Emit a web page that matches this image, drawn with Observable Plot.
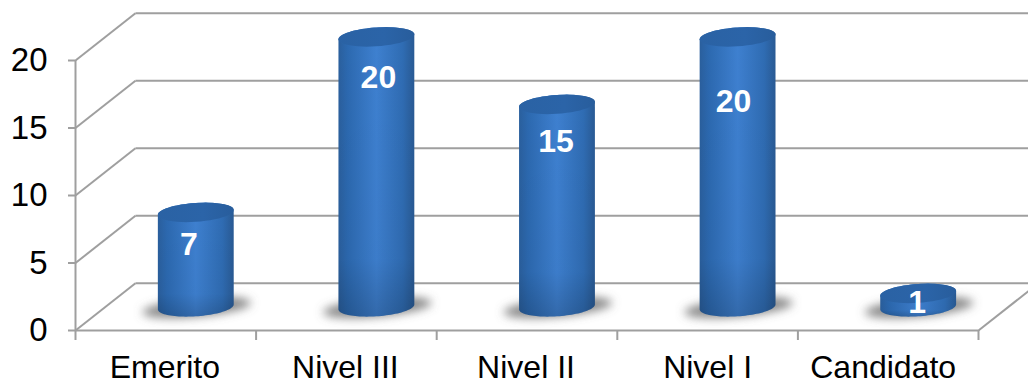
<!DOCTYPE html>
<html>
<head>
<meta charset="utf-8">
<script src="https://cdn.jsdelivr.net/npm/d3@7"></script>
<script src="https://cdn.jsdelivr.net/npm/@observablehq/plot@0.6"></script>
<style>
  html, body { margin: 0; padding: 0; background: #fff; }
  svg { display: block; }
</style>
</head>
<body>
<div id="chart"></div>
<script>
// Researchers per level
const categories = ["Emerito", "Nivel III", "Nivel II", "Nivel I", "Candidato"];
const values = [7, 20, 15, 20, 1];
const yTicks = [0, 5, 10, 15, 20];
const xBounds = [0, 1, 2, 3, 4, 5];

// Label placement around each column, in pixels
const labelShiftX = [-7, 2, -1, -4, -1];
const labelShiftY = [32, 41, 37, 65, 9];
const categoryShiftX = [-1, -1, -1, 0, -5];
const categoryDrop = 37.7;

// Oblique projection of the chart box, in data units
const depthX = 0.332;
const depthY = 3.5;

// Ellipse proportions of a column cross-section, in data units
const radiusX = 0.21;
const radiusY = 0.7;
const shear = 0.18;

const gridColor = "#9f9f9f";

function arc(cx, cy, a, b, k, from, to) {
  const steps = 48;
  return d3.range(steps + 1).map((s) => {
    const t = from + (to - from) * s / steps;
    return {x: cx + a * Math.cos(t), y: cy + b * Math.sin(t) + k * Math.cos(t)};
  });
}

const centerX = (i) => i + 0.5 + depthX / 2;
const baseY = depthY / 2;

const bodies = values.flatMap((v, i) => [
  ...arc(centerX(i), baseY, radiusX, radiusY, shear, Math.PI, 2 * Math.PI),
  ...arc(centerX(i), baseY + v, radiusX, radiusY, shear, 0, Math.PI)
].map((p) => ({...p, i})));

const tops = values.flatMap((v, i) =>
  arc(centerX(i), baseY + v, radiusX, radiusY, shear, 0, 2 * Math.PI).map((p) => ({...p, i}))
);

const shadows = values.flatMap((v, i) =>
  arc(centerX(i) + 0.005, baseY - 0.05, 0.3, 0.68, 0.36, 0, 2 * Math.PI).map((p) => ({...p, i}))
);

const defs = () => d3.create("svg:defs").html(`
  <linearGradient id="columnSide" x1="0" x2="1" y1="0" y2="0">
    <stop offset="0" stop-color="#2a5f9d"/>
    <stop offset="0.12" stop-color="#2c69b0"/>
    <stop offset="0.5" stop-color="#3e80d0"/>
    <stop offset="0.85" stop-color="#2f6cb3"/>
    <stop offset="1" stop-color="#295a94"/>
  </linearGradient>
  <linearGradient id="columnFade" x1="0" x2="0" y1="0" y2="1">
    <stop offset="0" stop-color="#000" stop-opacity="0"/>
    <stop offset="0.8" stop-color="#000" stop-opacity="0.03"/>
    <stop offset="1" stop-color="#000" stop-opacity="0.18"/>
  </linearGradient>
  <linearGradient id="columnTop" x1="0" x2="1" y1="0" y2="0">
    <stop offset="0" stop-color="#2a62a4"/>
    <stop offset="0.6" stop-color="#2b64a8"/>
    <stop offset="1" stop-color="#285d9c"/>
  </linearGradient>
  <filter id="softShadow" x="-30%" y="-100%" width="160%" height="300%">
    <feGaussianBlur stdDeviation="5"/>
  </filter>
`).node();

const blurred = (index, scales, channels, dimensions, context, next) => {
  const g = next(index, scales, channels, dimensions, context);
  g.setAttribute("filter", "url(#softShadow)");
  return g;
};

// Moves each text of a mark by its own pixel offset
const nudged = (shiftX, shiftY) => (index, scales, channels, dimensions, context, next) => {
  const g = next(index, scales, channels, dimensions, context);
  d3.select(g).selectAll("text").each(function (d, n) {
    const i = index[n];
    this.setAttribute("transform",
      `translate(${channels.x[i] + shiftX(i)},${channels.y[i] + shiftY(i)})`);
  });
  return g;
};

const chart = Plot.plot({
  width: 1028,
  height: 385,
  marginLeft: 75,
  marginRight: 50,
  marginTop: 60,
  marginBottom: 55,
  style: {fontFamily: "'Liberation Sans', Arial, sans-serif", background: "#fff", color: "#000"},
  x: {domain: [0, 5]},
  y: {domain: [0, 20]},
  marks: [
    defs,
    // Back wall and floor edge
    Plot.link(yTicks, {
      x1: depthX, y1: (d) => d + depthY,
      x2: 5 + depthX, y2: (d) => d + depthY,
      stroke: gridColor, strokeWidth: 2
    }),
    // Side wall
    Plot.link(yTicks, {
      x1: 0, y1: (d) => d,
      x2: depthX, y2: (d) => d + depthY,
      stroke: gridColor, strokeWidth: 2
    }),
    // Right edge of the floor
    Plot.link([0], {
      x1: 5, y1: 0,
      x2: 5 + depthX, y2: depthY,
      stroke: gridColor, strokeWidth: 2
    }),
    // Front floor edge and left axis line
    Plot.ruleY([0], {stroke: gridColor, strokeWidth: 2}),
    Plot.ruleX([0], {stroke: gridColor, strokeWidth: 2}),
    Plot.axisX({
      ticks: xBounds, tickSize: 10, tickFormat: () => "", label: null,
      stroke: gridColor, strokeWidth: 2
    }),
    Plot.axisY({
      ticks: yTicks, tickSize: 7, tickPadding: 21, label: null, fontSize: 33,
      stroke: gridColor, strokeWidth: 2, fill: "#000"
    }),
    Plot.text(categories, {
      x: (d, i) => i + 0.5, y: 0, text: (d) => d,
      fontSize: 32, fill: "#000",
      render: nudged((i) => categoryShiftX[i], () => categoryDrop)
    }),
    // Floor shadows
    Plot.line(shadows, {
      x: "x", y: "y", z: "i", fill: "#6a6a6a", fillOpacity: 0.8, stroke: "none",
      render: blurred
    }),
    // Columns
    Plot.line(bodies, {x: "x", y: "y", z: "i", fill: "url(#columnSide)", stroke: "none"}),
    Plot.line(bodies, {x: "x", y: "y", z: "i", fill: "url(#columnFade)", stroke: "none"}),
    Plot.line(tops, {x: "x", y: "y", z: "i", fill: "url(#columnTop)", stroke: "none"}),
    // Value labels
    Plot.text(values, {
      x: (d, i) => centerX(i),
      y: (d) => baseY + d,
      text: (d) => String(d),
      fontSize: 32,
      fontWeight: "bold",
      fill: "#fff",
      render: nudged((i) => labelShiftX[i], (i) => labelShiftY[i])
    })
  ]
});

document.getElementById("chart").appendChild(chart);
</script>
</body>
</html>
